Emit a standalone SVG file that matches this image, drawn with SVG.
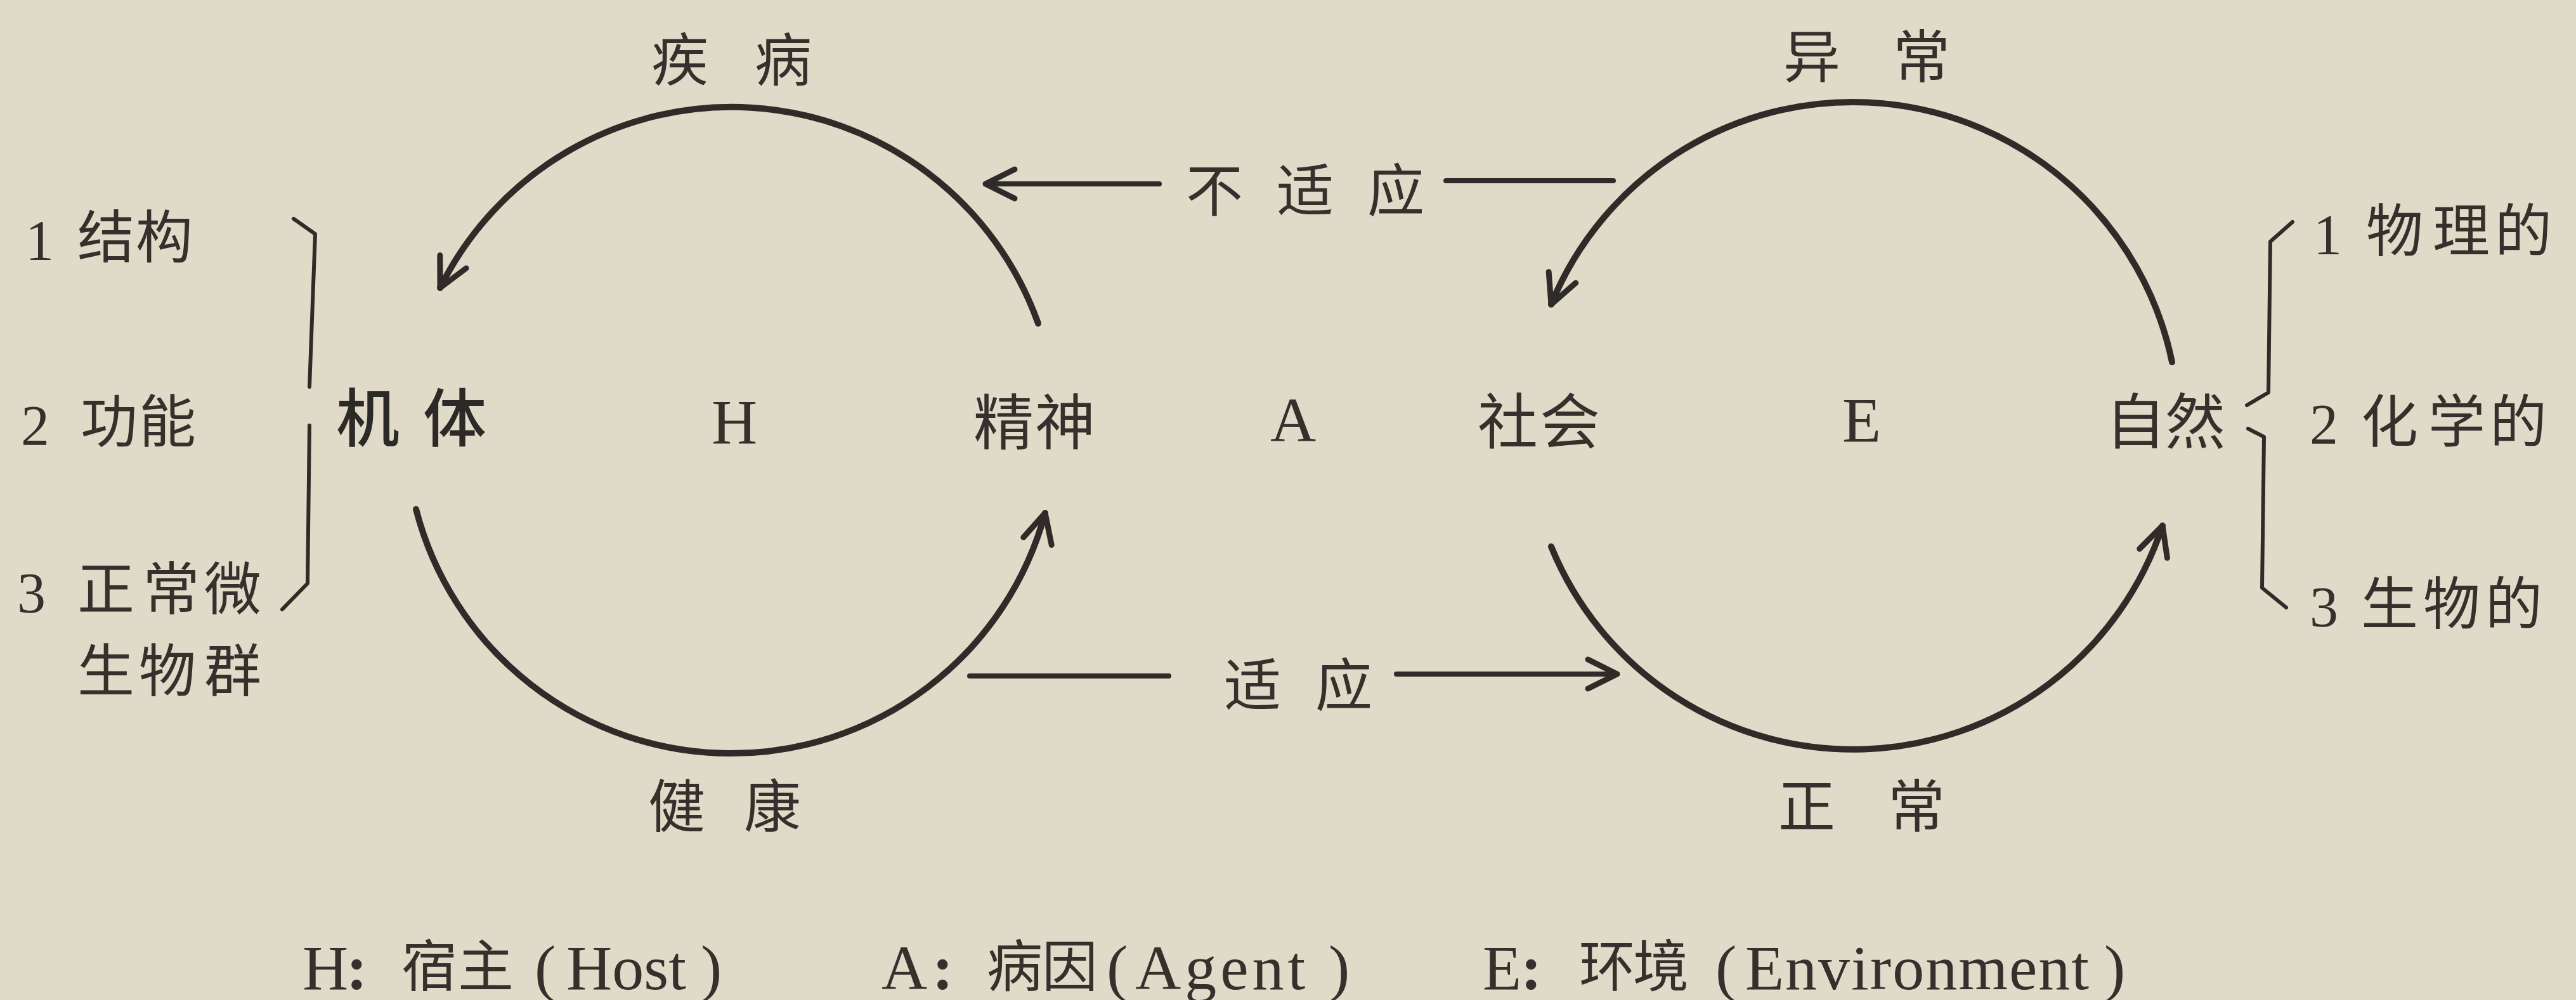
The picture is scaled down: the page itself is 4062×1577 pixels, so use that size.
<svg xmlns="http://www.w3.org/2000/svg" width="4062" height="1577" viewBox="0 0 4062 1577">
<defs>
<style>
.zh{font-family:"Noto Sans CJK SC","Noto Sans CJK TC",sans-serif;font-size:90px;fill:#34312d}
.zb{font-family:"Noto Sans CJK SC",sans-serif;font-size:100px;font-weight:500;fill:#2c2a27}
.la{font-family:"Liberation Serif","Times New Roman",serif;font-size:100px;fill:#34312d}
.ln{fill:none;stroke:#2e2b28;stroke-linecap:round;stroke-linejoin:round}
.arc{stroke-width:10}
.arw{stroke-width:8}
.br{stroke-width:6}
</style>
<marker id="head" markerUnits="userSpaceOnUse" markerWidth="80" markerHeight="80" viewBox="-60 -40 80 80" refX="0" refY="0" orient="auto">
<path d="M-46,-23 L0,0 L-46,23" fill="none" stroke="#2e2b28" stroke-width="9" stroke-linecap="round" stroke-linejoin="round"/>
</marker>
</defs>
<rect x="0" y="0" width="4062" height="1577" fill="#e0dac8"/>

<g id="connectors">
<path class="ln arc" d="M1637,510 A513,513 0 0,0 694,454" marker-end="url(#head)"/>
<path class="ln arc" d="M656,803 A513,513 0 0,0 1648,809" marker-end="url(#head)"/>
<path class="ln arc" d="M3425,571 A514,514 0 0,0 2446,480" marker-end="url(#head)"/>
<path class="ln arc" d="M2446,862 A514,514 0 0,0 3410,829" marker-end="url(#head)"/>
<path class="ln arw" d="M1828,290 L1554,290" marker-end="url(#head)"/>
<path class="ln arw" d="M2544,285 L2280,285"/>
<path class="ln arw" d="M1529,1066 L1843,1066"/>
<path class="ln arw" d="M2202,1063 L2550,1063" marker-end="url(#head)"/>
</g>

<g id="label-disease"><text class="zh" x="1027 1190" y="127">疾病</text></g>
<g id="label-abnormal"><text class="zh" x="2812 2985" y="122">异常</text></g>
<g id="label-health"><text class="zh" x="1022 1173" y="1304">健康</text></g>
<g id="label-normal"><text class="zh" x="2804 2977" y="1304">正常</text></g>
<g id="label-maladapt"><text class="zh" x="1870 2013 2156" y="333">不适应</text></g>
<g id="label-adapt"><text class="zh" x="1930 2074" y="1113">适应</text></g>

<g id="node-host">
<text class="zb" x="530 667" y="696">机体</text>
<text class="la" x="1122" y="699">H</text>
<text class="zh" style="font-size:95px" x="1535 1632" y="701">精神</text>
</g>

<g id="node-agent">
<text class="la" x="2003" y="696">A</text>
</g>

<g id="node-environment">
<text class="zh" style="font-size:95px" x="2330 2428" y="700">社会</text>
<text class="la" x="2905" y="696">E</text>
<text class="zh" style="font-size:95px" x="3320 3414" y="700">自然</text>
</g>

<g id="host-list">
<path class="ln br" d="M463,345 L497,369 L488,610"/>
<path class="ln br" d="M488,671 L485,920 L445,961"/>
<text class="la" style="font-size:90px" x="40" y="410">1</text>
<text class="zh" x="122 214" y="406">结构</text>
<text class="la" style="font-size:90px" x="33" y="702">2</text>
<text class="zh" x="127 219" y="697">功能</text>
<text class="la" style="font-size:90px" x="27" y="966">3</text>
<text class="zh" x="122 225 322" y="961">正常微</text>
<text class="zh" x="122 219 322" y="1090">生物群</text>
</g>

<g id="environment-list">
<path class="ln br" d="M3615,350 L3580,381 L3577,619 L3543,639"/>
<path class="ln br" d="M3545,676 L3570,689 L3567,927 L3605,958"/>
<text class="la" style="font-size:90px" x="3648" y="401">1</text>
<text class="zh" x="3731 3836 3934" y="396">物理的</text>
<text class="la" style="font-size:90px" x="3642" y="700">2</text>
<text class="zh" x="3723 3829 3926" y="697">化学的</text>
<text class="la" style="font-size:90px" x="3642" y="988">3</text>
<text class="zh" x="3723 3821 3919" y="984">生物的</text>
</g>

<g id="legend">
<text class="la" x="477" y="1560">H</text>
<text class="la" style="font-weight:bold" x="546" y="1560">:</text>
<text class="zh" style="font-size:88px" x="633 722" y="1555">宿主</text>
<text class="la" x="843" y="1560">(</text>
<text class="la" x="893" y="1560">Host</text>
<text class="la" x="1105" y="1560">)</text>
<text class="la" x="1390" y="1560">A</text>
<text class="la" style="font-weight:bold" x="1470" y="1560">:</text>
<text class="zh" style="font-size:88px" x="1556 1643" y="1555">病因</text>
<text class="la" x="1745" y="1560">(</text>
<text class="la" x="1790" y="1560" letter-spacing="6">Agent</text>
<text class="la" x="2095" y="1560">)</text>
<text class="la" x="2338" y="1560">E</text>
<text class="la" style="font-weight:bold" x="2398" y="1560">:</text>
<text class="zh" style="font-size:88px" x="2490 2575" y="1555">环境</text>
<text class="la" x="2705" y="1560">(</text>
<text class="la" x="2752" y="1560" letter-spacing="2">Environment</text>
<text class="la" x="3318" y="1560">)</text>
</g>
</svg>
